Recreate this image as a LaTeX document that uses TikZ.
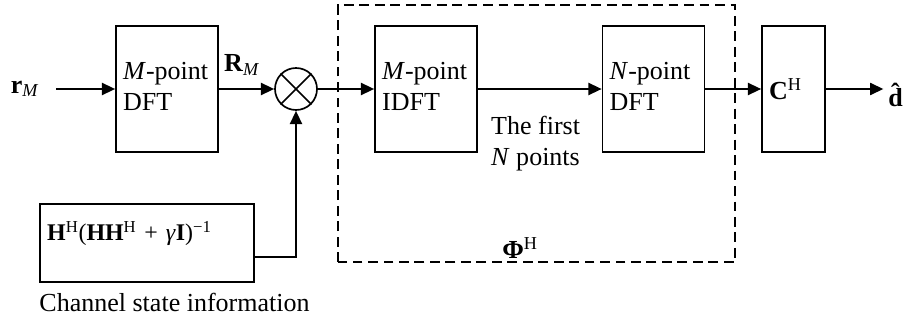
\documentclass[tikz,border=0pt]{standalone}
\usepackage{fontspec}
\setmainfont{Liberation Serif}
\usepackage{tikz}
\usetikzlibrary{arrows.meta,positioning}
\tikzset{
box/.style = {rectangle, draw=black, line width=1.2pt, text width = #1, minimum height=3.15cm, inner xsep=0.18cm, text depth=0.9cm, align=left},
box/.default = 2.19cm, % text width inside a transform block
sig/.style = {-{Triangle[length=0.33cm, width=0.3cm]}, line width=1.4pt},
}

\begin{document}
\begin{tikzpicture}[font=\fontsize{18.5}{22}\selectfont]
    \useasboundingbox (0,0) rectangle (22.75,8.075);

    \node[box] (dftM) at (4.175,5.85) {\textit{M}-point\\DFT};
    \node[circle, draw, line width=1.2pt, minimum size=1.05cm] (mix) at (7.4,5.85) {};
    \draw[line width=1.2pt] (mix.north west) -- (mix.south east) (mix.north east) -- (mix.south west);
    \node[box] (idftM) at (10.65,5.85) {\textit{M}-point\\IDFT};
    \node[box] (dftN) at (16.3375,5.85) {\textit{N}-point\\DFT};
    \node[box=1.215cm, text depth=0pt] (eq) at (19.8375,5.85) {\textbf{C}\textsuperscript{H}};

    \node (rM) at (0.625,5.85) {\textbf{r}\textsubscript{\textit{M}}};
    \node (RM) at (6.05,6.45) {\textbf{R}\textsubscript{\textit{M}}};
    \node (dhat) at (22.44,5.7) {\textbf{d̂}};

    % channel inversion branch
    \node[box=4.99cm, minimum height=1.95cm, text depth=0.6cm, font=\fontsize{17}{20}\selectfont] (csi) at (3.675,2.0)
        {\textbf{H}\textsuperscript{H}(\textbf{HH}\textsuperscript{H} + \textit{γ}\textbf{I})\textsuperscript{−1}};
    \node[below right=0.25cm and 0cm of csi.south west, inner sep=0] (csiText) {Channel state information};
    \coordinate (turn) at (7.4,1.65);

    % dashed frame around the combined transform
    \draw[dashed, line width=1.2pt, dash pattern=on 7pt off 4pt] (8.45,1.525) rectangle (18.375,7.95);
    \node (phi) at (13.0,1.875) {\textbf{Φ}\textsuperscript{H}};
    \node[align=left, inner sep=0] (firstN) at (13.39,4.475) {The first\\\textit{N} points};

    \draw[sig, shorten <=0.3cm] (rM) -- (dftM);
    \draw[sig] (dftM) -- (mix);
    \draw[sig] (mix) -- (idftM);
    \draw[sig] (idftM) -- (dftN);
    \draw[sig] (dftN) -- (eq);
    \draw[sig] (eq) -- (eq -| dhat.west);
    \draw[sig] (csi.east |- turn) -- (turn) -- (mix.south);
\end{tikzpicture}
\end{document}
